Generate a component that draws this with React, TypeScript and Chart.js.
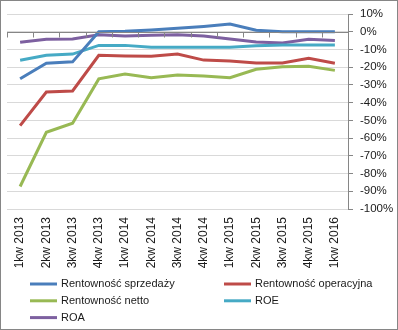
import React, { useEffect, useRef } from "react";
import { Chart, registerables } from "chart.js";

Chart.register(...registerables);

const categories = [
  "1kw 2013", "2kw 2013", "3kw 2013", "4kw 2013",
  "1kw 2014", "2kw 2014", "3kw 2014", "4kw 2014",
  "1kw 2015", "2kw 2015", "3kw 2015", "4kw 2015", "1kw 2016",
];

const rentownoscSprzedazy = [-26.5, -17.8, -17, 0, 0.2, 1, 2, 3, 4.3, 0.8, 0, 0, 0];
const rentownoscOperacyjna = [-53, -34, -33.4, -13.3, -13.7, -13.9, -12.6, -16, -16.5, -17.6, -17.6, -15, -17.8];
const rentownoscNetto = [-87.3, -56.7, -51.6, -26.6, -23.8, -25.9, -24.4, -25, -25.9, -21.2, -19.7, -19.5, -21.8];
const roe = [-16.1, -13.3, -12.6, -7.7, -7.7, -8.8, -8.8, -8.8, -8.8, -7.9, -7.5, -7.5, -7.5];
const roa = [-6, -4.3, -4.1, -1.7, -2.4, -2, -1.7, -2.4, -4.1, -5.8, -6.4, -4.3, -4.9];

const seriesNames = ["Rentowność sprzedaży", "Rentowność operacyjna", "Rentowność netto", "ROE", "ROA"];
const seriesData = [rentownoscSprzedazy, rentownoscOperacyjna, rentownoscNetto, roe, roa];
const seriesColors = ["#4A7EBB", "#BE4B48", "#98B954", "#46AAC5", "#7D60A0"];

const FONT = "'Liberation Sans', Arial, sans-serif";

const extrasPlugin = {
  id: "extras",
  afterDraw(chart: any) {
    const ctx = chart.ctx;
    const x = chart.scales.x;
    const y = chart.scales.y;
    const y0 = Math.round(y.getPixelForValue(0)) + 0.5;
    ctx.save();
    // category axis at 0 with tick marks
    ctx.strokeStyle = "#868686";
    ctx.lineWidth = 1;
    ctx.beginPath();
    ctx.moveTo(chart.chartArea.left, y0);
    ctx.lineTo(chart.chartArea.right, y0);
    for (let i = 0; i <= categories.length; i++) {
      const px = Math.round(x.getPixelForValue(i - 0.5)) + 0.5;
      ctx.moveTo(px, y0);
      ctx.lineTo(px, y0 + 5);
    }
    ctx.stroke();
    // legend
    ctx.font = `11px ${FONT}`;
    ctx.textBaseline = "middle";
    ctx.fillStyle = "#1a1a1a";
    chart.data.datasets.forEach((ds: any, i: number) => {
      const col = i % 2;
      const row = Math.floor(i / 2);
      const lx = col === 0 ? 30 : 224;
      const ly = 284 + row * 16.8;
      ctx.strokeStyle = ds.borderColor;
      ctx.lineWidth = 3;
      ctx.beginPath();
      ctx.moveTo(lx, ly);
      ctx.lineTo(lx + 27, ly);
      ctx.stroke();
      ctx.fillText(ds.label, lx + 31, ly);
    });
    // outer border
    ctx.strokeStyle = "#868686";
    ctx.lineWidth = 1;
    ctx.strokeRect(0.5, 0.5, chart.width - 1, chart.height - 1);
    ctx.restore();
  },
};

export default function App() {
  const ref = useRef<HTMLCanvasElement | null>(null);
  useEffect(() => {
    document.body.style.margin = "0";
    const chart = new Chart(ref.current as HTMLCanvasElement, {
      type: "line",
      data: {
        labels: categories,
        datasets: seriesData.map((d, i) => ({
          label: seriesNames[i],
          data: d,
          borderColor: seriesColors[i],
          backgroundColor: seriesColors[i],
          borderWidth: 3,
          pointRadius: 0,
          tension: 0,
        })),
      },
      options: {
        animation: false,
        responsive: false,
        layout: { padding: { top: 14, left: 7, right: 0, bottom: 60 } },
        plugins: { legend: { display: false }, tooltip: { enabled: false } },
        scales: {
          x: {
            offset: true,
            grid: { display: false, drawTicks: false },
            border: { display: false },
            ticks: {
              minRotation: 90,
              maxRotation: 90,
              autoSkip: false,
              padding: 8,
              color: "#1a1a1a",
              font: { family: FONT, size: 12 },
            },
            afterFit: (s: any) => { s.height = 61; },
          },
          y: {
            position: "right",
            min: -100,
            max: 10,
            ticks: {
              stepSize: 10,
              padding: 7,
              color: "#1a1a1a",
              font: { family: FONT, size: 11.5 },
              callback: (v: any) => `${v}%`,
            },
            grid: {
              color: "#D9D9D9",
              tickColor: "#868686",
              tickLength: 5,
            },
            border: { display: true, color: "#868686" },
            afterFit: (s: any) => { s.width = 50; },
          },
        },
      },
      plugins: [extrasPlugin],
    });
    return () => chart.destroy();
  }, []);
  return (
    <div style={{ position: "absolute", left: 0, top: 0, width: 398, height: 330, background: "#fff" }}>
      <canvas ref={ref} width={398} height={330} />
    </div>
  );
}
